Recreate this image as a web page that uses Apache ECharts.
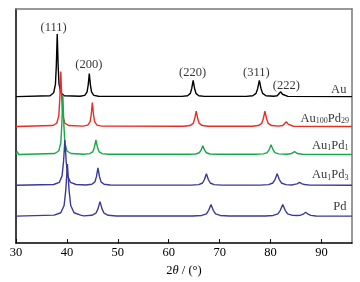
<!DOCTYPE html>
<html>
<head>
<meta charset="utf-8">
<script src="https://cdn.jsdelivr.net/npm/echarts@6/dist/echarts.min.js"></script>
<style>
  html, body { margin: 0; padding: 0; background: #ffffff; }
  #xrd-chart { width: 360px; height: 282px; }
</style>
</head>
<body>
<div id="xrd-chart"></div>
<script>
// sample names, top to bottom
const samples = ["Au", "Au100Pd29", "Au1Pd1", "Au1Pd3", "Pd"];
// vertical offset of each pattern (arb. units)
const offsets = [152, 121, 92, 60, 28];
const lineColors = ["#000000", "#ee2a24", "#16a94a", "#3a3a9a", "#3a3a9a"];

// [2theta, intensity above own baseline]
const auData = [
  [30, 0], [36.7, 1], [37.4, 4], [37.75, 13], [37.92, 32], [38.1, 65], [38.28, 32], [38.45, 13], [38.8, 4], [39.5, 1],
  [42.6, 0.4], [43.5, 1.4], [43.95, 4.8], [44.18, 12], [44.4, 24], [44.62, 12], [44.85, 4.8], [45.3, 1.4], [46.2, 0.4],
  [62.6, 0.3], [63.7, 1], [64.25, 3.4], [64.52, 8.5], [64.8, 17], [65.08, 8.5], [65.35, 3.4], [65.9, 1], [67, 0.3],
  [75.2, 0.3], [76.5, 1], [77.15, 3.4], [77.48, 8.5], [77.8, 17], [78.12, 8.5], [78.45, 3.4], [79.1, 1],
  [80.6, 0.4], [81.3, 1], [81.65, 2.5], [82, 5], [82.35, 2.5], [82.7, 1], [83.4, 0.3], [96, 0]
];
const au100pd29Data = [
  [30, 0], [37.2, 1], [38.0, 3.4], [38.4, 11], [38.6, 28], [38.8, 57], [39.0, 28], [39.2, 11], [39.6, 3.4], [40.4, 1],
  [43.2, 0.4], [44.1, 1.5], [44.56, 5], [44.78, 12.5], [45.0, 25], [45.22, 12.5], [45.44, 5], [45.9, 1.5], [46.8, 0.4],
  [63, 0.3], [64.2, 1], [64.8, 3.2], [65.1, 8], [65.4, 16], [65.7, 8], [66, 3.2], [66.6, 1], [67.8, 0.3],
  [76.4, 0.3], [77.6, 1], [78.26, 3.2], [78.58, 8], [78.9, 16], [79.22, 8], [79.54, 3.2], [80.2, 1], [81.5, 0.4],
  [82.4, 1], [82.75, 2.5], [83.1, 5], [83.45, 2.5], [83.8, 1], [84.5, 0.3], [96, 0]
];
const au1pd1Data = [
  [30, 0], [30.25, 3], [30.5, 0], [37.6, 1], [38.4, 3.6], [38.8, 12], [39.0, 31], [39.2, 62], [39.4, 31], [39.6, 12], [40.0, 3.6], [40.8, 1],
  [43.3, 0.2], [44.5, 0.9], [45.1, 3], [45.4, 7.5], [45.7, 15], [46.0, 7.5], [46.3, 3], [46.9, 0.9], [48.1, 0.2],
  [63.9, 0.2], [65.3, 0.5], [66.0, 1.8], [66.35, 4.5], [66.7, 9], [67.05, 4.5], [67.4, 1.8], [68.1, 0.5], [69.5, 0.2],
  [77.1, 0.2], [78.6, 0.6], [79.34, 2], [79.72, 5], [80.1, 10], [80.48, 5], [80.86, 2], [81.6, 0.6], [83.1, 0.3],
  [83.9, 0.7], [84.3, 1.5], [84.7, 3], [85.1, 1.5], [85.5, 0.7], [86.3, 0.2], [96, 0]
];
const au1pd3Data = [
  [30, 0], [37.4, 0.8], [38.5, 3], [39.05, 9.8], [39.33, 24], [39.6, 47], [39.87, 24], [40.15, 9.8], [40.7, 3], [41.8, 0.8],
  [43.7, 0.3], [44.9, 1.1], [45.5, 3.6], [45.8, 9], [46.1, 18], [46.4, 9], [46.7, 3.6], [47.3, 1.1], [48.5, 0.3],
  [64.4, 0.2], [65.9, 0.7], [66.64, 2.4], [67.02, 6], [67.4, 12], [67.78, 6], [68.16, 2.4], [68.9, 0.7], [70.4, 0.2],
  [78, 0.2], [79.6, 0.7], [80.46, 2.4], [80.88, 6], [81.3, 12], [81.72, 6], [82.14, 2.4], [83.0, 0.7], [84.2, 0.3],
  [84.7, 0.9], [85.2, 1.5], [85.7, 3], [86.2, 1.5], [86.7, 0.8], [87.7, 0.2], [96, 0]
];
const pdData = [
  [30, 0], [37.5, 1], [38.8, 3.5], [39.45, 11], [39.78, 27], [40.1, 54], [40.42, 27], [40.75, 11], [41.4, 3.5], [42.7, 1],
  [43.3, 0.3], [44.9, 0.9], [45.7, 3], [46.1, 7.5], [46.5, 15], [46.9, 7.5], [47.3, 3], [48.1, 0.9], [49.7, 0.2],
  [64.7, 0.2], [66.5, 0.7], [67.4, 2.4], [67.85, 6], [68.3, 12], [68.75, 6], [69.2, 2.4], [70.1, 0.7], [71.9, 0.2],
  [79, 0.2], [80.5, 0.7], [81.44, 2.4], [81.92, 6], [82.4, 12], [82.88, 6], [83.36, 2.4], [84.3, 0.8], [85.3, 0.6],
  [85.8, 0.8], [86.4, 2], [86.9, 4], [87.4, 2], [87.9, 0.8], [88.9, 0.2], [96, 0]
];
const patterns = [auData, au100pd29Data, au1pd1Data, au1pd3Data, pdData];

// reflection labels [2theta, y, text]
const peakLabels = [
  [37.4, 224, "(111)"], [44.3, 185.6, "(200)"], [64.7, 177.3, "(220)"],
  [77.2, 177.3, "(311)"], [83.1, 163, "(222)"]
];
// sample labels [2theta (right edge), y, rich text]
const sampleLabels = [
  [94.9, 159, "{n|Au}"],
  [95.4, 129.5, "{n|Au}{s|100}{n|Pd}{s|29}"],
  [95.3, 101.5, "{n|Au}{s|1}{n|Pd}{s|1}"],
  [95.3, 70.5, "{n|Au}{s|1}{n|Pd}{s|3}"],
  [94.9, 37.3, "{n|Pd}"]
];
const xTicks = [30, 40, 50, 60, 70, 80, 90];

const serif = "Liberation Serif";
const richStyles = {
  n: { fontFamily: serif, fontSize: 12.5, color: "#000", lineHeight: 13, verticalAlign: "top" },
  s: { fontFamily: serif, fontSize: 8, color: "#000", lineHeight: 8, verticalAlign: "bottom", padding: [8, 0, 0, 0] },
  i: { fontFamily: serif, fontSize: 12.5, color: "#000", fontStyle: "italic" }
};

const chart = echarts.init(document.getElementById("xrd-chart"));

const lineSeries = samples.map((name, k) => ({
  name: name,
  type: "line",
  data: patterns[k].map((p) => [p[0], p[1] + offsets[k]]),
  showSymbol: false,
  silent: true,
  lineStyle: { color: lineColors[k], width: 1.4 },
  z: 2 + k
}));

const frameAxis = (color) => ({
  axisLine: { show: true, onZero: false, lineStyle: { color: color, width: 1.5 } },
  axisTick: { show: false },
  axisLabel: { show: false },
  splitLine: { show: false }
});

const option = {
  animation: false,
  backgroundColor: "#ffffff",
  grid: { left: 16, right: 8, top: 9, bottom: 30 },
  xAxis: [
    {
      type: "value",
      min: xTicks[0],
      max: 96,
      interval: 10,
      name: "{n|2}{i|θ}{n| / (°)}",
      nameLocation: "middle",
      nameGap: 12,
      nameTextStyle: { rich: richStyles },
      axisLine: { onZero: false, lineStyle: { color: "#000", width: 1.5 } },
      axisTick: { inside: true, length: 4, lineStyle: { color: "#000", width: 1 } },
      axisLabel: { color: "#000", fontFamily: serif, fontSize: 12.5, margin: 3, showMaxLabel: false },
      splitLine: { show: false }
    },
    { type: "value", position: "top", min: xTicks[0], max: 96, ...frameAxis("#777") }
  ],
  yAxis: [
    { type: "value", min: 0, max: 243, ...frameAxis("#000") },
    { type: "value", position: "right", min: 0, max: 243, ...frameAxis("#777") }
  ],
  series: [
    ...lineSeries,
    {
      type: "scatter",
      silent: true,
      symbolSize: 0,
      data: peakLabels,
      z: 10,
      label: {
        show: true,
        position: "inside",
        formatter: (p) => p.data[2],
        color: "#000",
        fontFamily: serif,
        fontSize: 12.5
      }
    },
    {
      type: "scatter",
      silent: true,
      symbolSize: 0,
      data: sampleLabels,
      z: 10,
      label: {
        show: true,
        position: "left",
        distance: 0,
        formatter: (p) => p.data[2],
        rich: richStyles
      }
    }
  ]
};

chart.setOption(option);
</script>
</body>
</html>
